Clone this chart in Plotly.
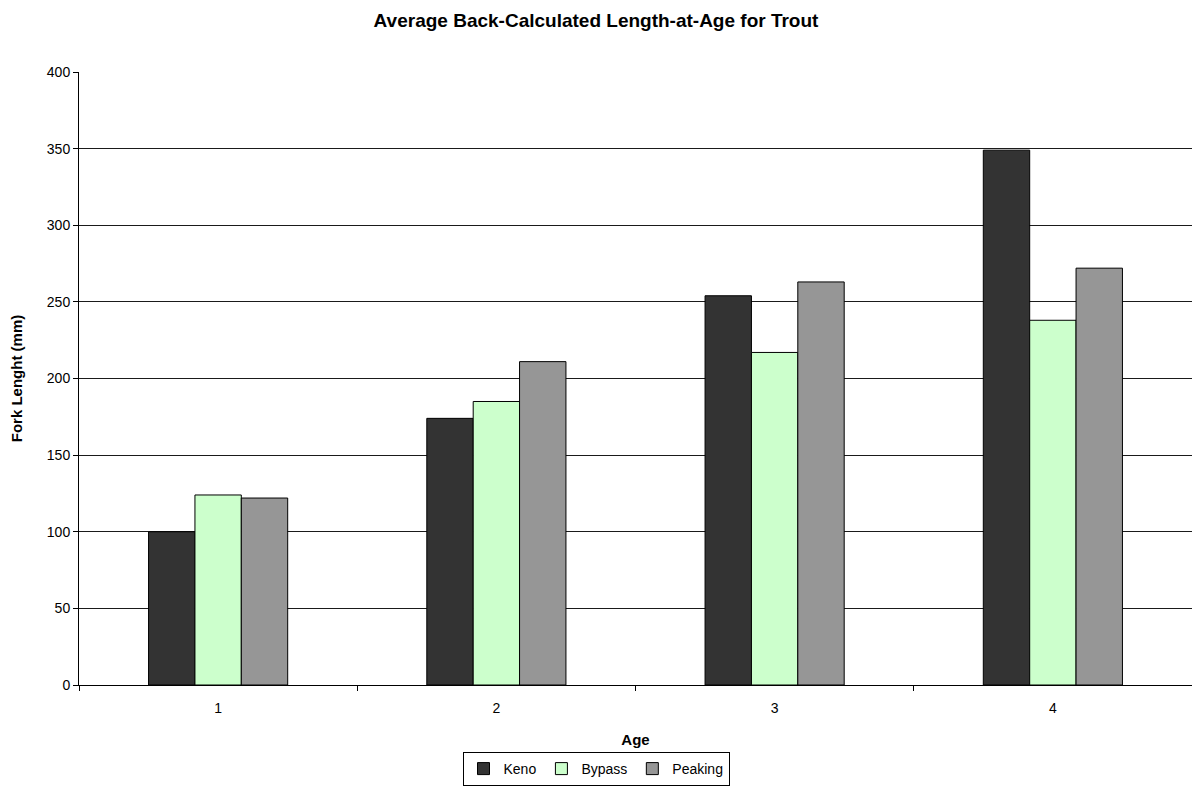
import plotly.graph_objects as go

ages = ["1", "2", "3", "4"]
keno = [100, 174, 254, 349]
bypass = [124, 185, 217, 238]
peaking = [122, 211, 263, 272]

series = [
    ("Keno", keno, "#333333"),
    ("Bypass", bypass, "#CCFFCC"),
    ("Peaking", peaking, "#969696"),
]

font_family = "Liberation Sans, Arial, sans-serif"

fig = go.Figure()
for name, vals, color in series:
    fig.add_trace(go.Bar(
        x=ages, y=vals, name=name,
        marker=dict(color=color, line=dict(color="#000000", width=1)),
    ))

fig.update_layout(
    width=1192, height=809,
    paper_bgcolor="white", plot_bgcolor="white",
    margin=dict(l=79, r=0, t=72, b=124),
    barmode="group", bargap=0.5, bargroupgap=0,
    font=dict(family=font_family, size=14, color="#000000"),
    title=dict(
        text="<b>Average Back-Calculated Length-at-Age for Trout</b>",
        x=0.5, xref="container", xanchor="center",
        y=1 - 20 / 809, yref="container", yanchor="middle",
        font=dict(size=19, family=font_family, color="#000000"),
    ),
    legend=dict(
        orientation="h",
        x=0.5, xref="container", xanchor="center",
        y=1 - 769 / 809, yref="container", yanchor="middle",
        bordercolor="#000000", borderwidth=1, bgcolor="white",
        font=dict(size=14, family=font_family),
        itemwidth=30, tracegroupgap=0,
    ),
    xaxis=dict(
        title=dict(text="<b>Age</b>", font=dict(size=15), standoff=19),
        showline=True, linecolor="#000000", linewidth=1,
        ticks="outside", tickson="boundaries", ticklen=5, tickcolor="#000000",
        ticklabelstandoff=10,
        showgrid=False, tickfont=dict(size=14),
    ),
    yaxis=dict(
        title=dict(text="<b>Fork Lenght (mm)</b>", font=dict(size=15), standoff=20),
        range=[0, 400], dtick=50,
        showline=True, linecolor="#000000", linewidth=1,
        ticks="outside", ticklen=5, tickcolor="#000000",
        showgrid=True, gridcolor="#1a1a1a", gridwidth=1,
        zeroline=False, tickfont=dict(size=14),
    ),
)

fig.write_html("out.html")
